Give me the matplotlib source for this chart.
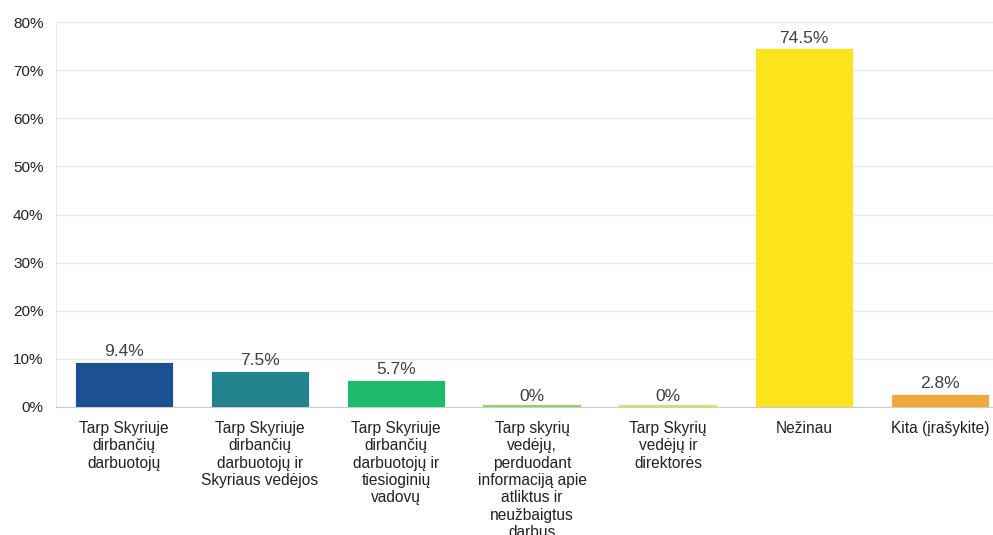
import matplotlib.pyplot as plt
import numpy as np

plt.rcParams['font.family'] = ['Liberation Sans', 'DejaVu Sans']

categories = [
    'Tarp Skyriuje\ndirbančių\ndarbuotojų',
    'Tarp Skyriuje\ndirbančių\ndarbuotojų ir\nSkyriaus vedėjos',
    'Tarp Skyriuje\ndirbančių\ndarbuotojų ir\ntiesioginių\nvadovų',
    'Tarp skyrių\nvedėjų,\nperduodant\ninformaciją apie\natliktus ir\nneužbaigtus\ndarbus',
    'Tarp Skyrių\nvedėjų ir\ndirektorės',
    'Nežinau',
    'Kita (įrašykite)',
]
values = [9.4, 7.5, 5.7, 0, 0, 74.5, 2.8]
value_labels = ['9.4%', '7.5%', '5.7%', '0%', '0%', '74.5%', '2.8%']
colors = ['#1b5192', '#23838f', '#1fbb6c', '#8fd36b', '#d6e45a', '#fde31b', '#f1a83c']
yticks = [0, 10, 20, 30, 40, 50, 60, 70, 80]

fig = plt.figure(figsize=(9.93, 5.35), dpi=100)
ax = fig.add_axes([56 / 993, 128 / 535, 952 / 993, 385 / 535])

x = np.arange(len(categories))
ax.bar(x, values, width=0.72, color=colors, edgecolor='white', linewidth=0.6, zorder=3)
# zero-height bars still show as a thin coloured strip on the baseline
for xi, v, c in zip(x, values, colors):
    if v == 0:
        ax.plot([xi - 0.36, xi + 0.36], [0.2, 0.2], color=c, lw=1.5, zorder=4,
                solid_capstyle='butt')

for xi, v, lab in zip(x, values, value_labels):
    ax.text(xi, v + 0.6, lab, ha='center', va='bottom', fontsize=12.5, color='#404040')

ax.set_xlim(-0.5, len(categories) - 0.5)
ax.set_ylim(0, 80)
ax.set_yticks(yticks)
ax.set_yticklabels([f'{t}%' for t in yticks], fontsize=11, color='#222222')
ax.set_xticks(x)
ax.set_xticklabels(categories, fontsize=11.2, color='#222222', linespacing=1.2, va='top')
ax.tick_params(axis='y', length=0, pad=9)
ax.tick_params(axis='x', length=0, pad=10)

ax.grid(axis='y', color='#e8e8e8', lw=1, zorder=0)
for s in ['top', 'right']:
    ax.spines[s].set_visible(False)
ax.spines['left'].set_color('#e8e8e8')
ax.spines['bottom'].set_color('#cccccc')

plt.savefig('out.png', dpi=100)
